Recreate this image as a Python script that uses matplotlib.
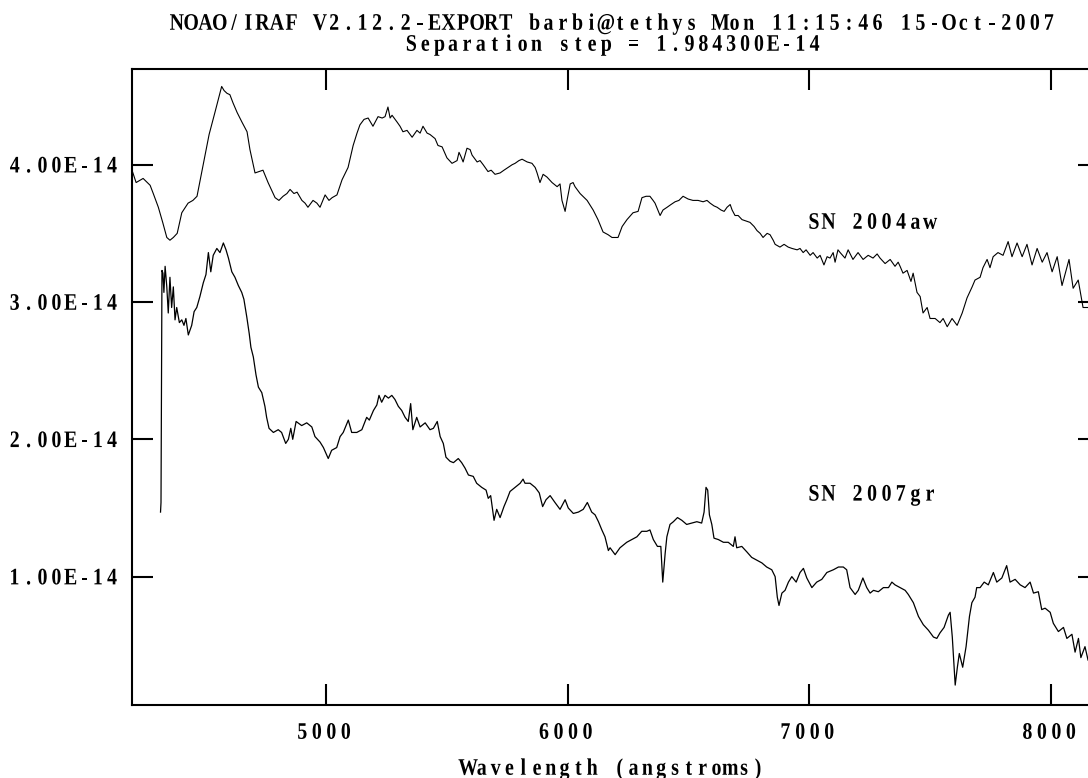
import numpy as np
import matplotlib
matplotlib.use("Agg")
import matplotlib.pyplot as plt
from matplotlib.textpath import TextPath
from matplotlib.patches import PathPatch
from matplotlib.font_manager import FontProperties
from matplotlib.transforms import Affine2D

# spectra, flux in units of 1e-14 (already shifted by the separation step)
sn2004aw = [
    (4197, 3.96), (4214, 3.87), (4243, 3.90), (4272, 3.85), (4285, 3.79), (4306, 3.69),
    (4324, 3.58), (4341, 3.47), (4354, 3.45), (4368, 3.47), (4384, 3.50), (4403, 3.65),
    (4429, 3.72), (4449, 3.74), (4466, 3.77), (4487, 3.96), (4516, 4.22), (4540, 4.38),
    (4568, 4.57), (4578, 4.54), (4590, 4.52), (4602, 4.51), (4615, 4.45), (4632, 4.38),
    (4652, 4.31), (4673, 4.24), (4685, 4.11), (4706, 3.94), (4722, 3.95), (4739, 3.96),
    (4760, 3.87), (4789, 3.76), (4805, 3.74), (4822, 3.77), (4838, 3.79), (4851, 3.82),
    (4867, 3.79), (4880, 3.80), (4900, 3.74), (4913, 3.72), (4925, 3.69), (4946, 3.74),
    (4962, 3.72), (4975, 3.69), (4996, 3.78), (5012, 3.74), (5025, 3.76), (5045, 3.78),
    (5066, 3.89), (5091, 3.98), (5112, 4.14), (5128, 4.23), (5140, 4.29), (5157, 4.33),
    (5174, 4.34), (5194, 4.28), (5215, 4.35), (5232, 4.34), (5244, 4.35), (5256, 4.42),
    (5265, 4.34), (5273, 4.36), (5294, 4.31), (5306, 4.28), (5318, 4.24), (5335, 4.25),
    (5356, 4.20), (5376, 4.25), (5389, 4.23), (5401, 4.28), (5418, 4.23), (5430, 4.22),
    (5451, 4.19), (5463, 4.14), (5480, 4.13), (5500, 4.05), (5521, 4.01), (5542, 4.03),
    (5550, 4.09), (5558, 4.06), (5567, 4.02), (5583, 4.12), (5596, 4.11), (5604, 4.07),
    (5625, 4.02), (5637, 4.03), (5650, 4.00), (5670, 3.95), (5683, 3.96), (5699, 3.93),
    (5720, 3.94), (5736, 3.96), (5753, 3.98), (5770, 4.00), (5782, 4.01), (5798, 4.03),
    (5811, 4.04), (5832, 4.02), (5852, 4.01), (5865, 3.98), (5873, 3.94), (5885, 3.87),
    (5898, 3.93), (5914, 3.91), (5935, 3.87), (5956, 3.84), (5968, 3.86), (5976, 3.74),
    (5989, 3.66), (5997, 3.74), (6010, 3.86), (6022, 3.87), (6030, 3.84), (6051, 3.79),
    (6080, 3.74), (6105, 3.67), (6125, 3.60), (6146, 3.51), (6167, 3.49), (6183, 3.47),
    (6208, 3.47), (6225, 3.55), (6245, 3.60), (6270, 3.65), (6291, 3.66), (6307, 3.76),
    (6324, 3.77), (6340, 3.77), (6353, 3.74), (6361, 3.72), (6382, 3.63), (6394, 3.67),
    (6411, 3.69), (6427, 3.71), (6444, 3.73), (6460, 3.74), (6477, 3.77), (6498, 3.75),
    (6518, 3.74), (6539, 3.74), (6560, 3.73), (6576, 3.74), (6589, 3.72), (6605, 3.70),
    (6618, 3.69), (6634, 3.67), (6647, 3.66), (6659, 3.69), (6672, 3.71), (6680, 3.67),
    (6692, 3.63), (6705, 3.63), (6721, 3.60), (6738, 3.59), (6754, 3.58), (6771, 3.55),
    (6783, 3.52), (6796, 3.50), (6808, 3.47), (6825, 3.50), (6837, 3.49), (6850, 3.45),
    (6858, 3.42), (6878, 3.40), (6895, 3.42), (6912, 3.40), (6928, 3.39), (6949, 3.38),
    (6961, 3.39), (6974, 3.36), (6986, 3.38), (7003, 3.34), (7015, 3.36), (7032, 3.32),
    (7044, 3.34), (7060, 3.27), (7073, 3.33), (7085, 3.32), (7098, 3.36), (7106, 3.29),
    (7118, 3.38), (7127, 3.36), (7147, 3.32), (7160, 3.38), (7180, 3.31), (7201, 3.36),
    (7222, 3.31), (7243, 3.34), (7263, 3.32), (7280, 3.35), (7292, 3.32), (7313, 3.28),
    (7334, 3.31), (7354, 3.26), (7367, 3.29), (7375, 3.26), (7387, 3.21), (7404, 3.23),
    (7420, 3.15), (7429, 3.21), (7445, 3.07), (7458, 3.04), (7470, 2.92), (7487, 2.96),
    (7499, 2.88), (7520, 2.88), (7540, 2.85), (7553, 2.88), (7570, 2.82), (7590, 2.88),
    (7611, 2.83), (7632, 2.92), (7652, 3.03), (7673, 3.11), (7685, 3.16), (7706, 3.18),
    (7718, 3.25), (7735, 3.31), (7747, 3.25), (7760, 3.33), (7780, 3.36), (7801, 3.34),
    (7822, 3.44), (7838, 3.33), (7859, 3.43), (7880, 3.33), (7900, 3.42), (7921, 3.27),
    (7942, 3.39), (7963, 3.29), (7983, 3.36), (8004, 3.22), (8025, 3.33), (8045, 3.12),
    (8074, 3.31), (8091, 3.10), (8112, 3.16), (8132, 2.96), (8153, 2.96), (8182, 3.01),
]

sn2007gr = [
    (4315, 1.47), (4317, 1.54), (4321, 3.23), (4325, 3.21), (4329, 3.07), (4334, 3.26),
    (4341, 3.11), (4347, 2.92), (4354, 3.18), (4361, 2.96), (4368, 3.11), (4375, 2.87),
    (4382, 2.96), (4393, 2.85), (4403, 2.87), (4412, 2.83), (4420, 2.88), (4430, 2.76),
    (4444, 2.83), (4454, 2.93), (4465, 2.96), (4478, 3.04), (4492, 3.14), (4503, 3.20),
    (4513, 3.36), (4523, 3.22), (4533, 3.34), (4548, 3.39), (4561, 3.36), (4575, 3.43),
    (4586, 3.38), (4596, 3.32), (4610, 3.22), (4623, 3.18), (4637, 3.12), (4651, 3.07),
    (4660, 3.02), (4672, 2.89), (4682, 2.77), (4689, 2.67), (4699, 2.60), (4710, 2.47),
    (4720, 2.38), (4734, 2.34), (4747, 2.24), (4754, 2.16), (4764, 2.08), (4782, 2.05),
    (4802, 2.07), (4816, 2.05), (4833, 1.97), (4844, 2.00), (4854, 2.08), (4862, 2.00),
    (4876, 2.13), (4899, 2.10), (4920, 2.12), (4941, 2.09), (4954, 2.02), (4975, 1.98),
    (4989, 1.94), (5009, 1.86), (5023, 1.92), (5044, 1.94), (5058, 2.02), (5071, 2.05),
    (5092, 2.14), (5106, 2.05), (5127, 2.05), (5148, 2.07), (5168, 2.16), (5179, 2.14),
    (5196, 2.21), (5210, 2.25), (5219, 2.32), (5230, 2.27), (5244, 2.32), (5258, 2.30),
    (5272, 2.32), (5285, 2.29), (5299, 2.24), (5313, 2.21), (5327, 2.16), (5340, 2.13),
    (5350, 2.26), (5359, 2.07), (5375, 2.16), (5389, 2.09), (5410, 2.12), (5430, 2.07),
    (5444, 2.08), (5460, 2.13), (5472, 2.02), (5485, 1.97), (5496, 1.87), (5513, 1.84),
    (5527, 1.83), (5547, 1.86), (5561, 1.83), (5575, 1.79), (5589, 1.74), (5609, 1.73),
    (5623, 1.68), (5644, 1.65), (5662, 1.63), (5671, 1.57), (5681, 1.59), (5695, 1.41),
    (5706, 1.49), (5720, 1.43), (5736, 1.51), (5748, 1.56), (5761, 1.62), (5782, 1.65),
    (5803, 1.68), (5815, 1.71), (5823, 1.68), (5844, 1.68), (5865, 1.65), (5882, 1.61),
    (5896, 1.51), (5910, 1.56), (5927, 1.59), (5947, 1.54), (5968, 1.49), (5989, 1.56),
    (6002, 1.50), (6023, 1.46), (6044, 1.47), (6064, 1.49), (6081, 1.54), (6099, 1.47),
    (6113, 1.45), (6127, 1.40), (6141, 1.34), (6154, 1.29), (6168, 1.19), (6175, 1.21),
    (6196, 1.16), (6216, 1.21), (6244, 1.25), (6265, 1.27), (6286, 1.29), (6306, 1.33),
    (6327, 1.33), (6340, 1.34), (6354, 1.27), (6371, 1.22), (6385, 1.22), (6393, 0.96),
    (6403, 1.17), (6410, 1.29), (6423, 1.38), (6437, 1.40), (6454, 1.43), (6472, 1.41),
    (6492, 1.38), (6513, 1.39), (6534, 1.40), (6554, 1.39), (6564, 1.47), (6572, 1.65),
    (6579, 1.63), (6586, 1.45), (6596, 1.38), (6605, 1.28), (6623, 1.27), (6644, 1.25),
    (6664, 1.25), (6685, 1.22), (6692, 1.29), (6699, 1.21), (6720, 1.22), (6741, 1.18),
    (6761, 1.14), (6782, 1.12), (6803, 1.10), (6823, 1.07), (6844, 1.05), (6858, 1.00),
    (6867, 0.85), (6874, 0.79), (6886, 0.88), (6899, 0.90), (6913, 0.96), (6927, 1.00),
    (6945, 0.96), (6961, 1.03), (6975, 1.06), (6989, 0.99), (7010, 0.92), (7030, 0.96),
    (7051, 0.98), (7072, 1.03), (7099, 1.05), (7120, 1.07), (7140, 1.07), (7154, 1.05),
    (7168, 0.92), (7189, 0.87), (7202, 0.90), (7221, 0.99), (7237, 0.92), (7251, 0.88),
    (7265, 0.90), (7285, 0.89), (7306, 0.92), (7327, 0.92), (7341, 0.96), (7354, 0.94),
    (7375, 0.92), (7396, 0.90), (7409, 0.87), (7430, 0.81), (7451, 0.71), (7471, 0.65),
    (7492, 0.61), (7513, 0.56), (7527, 0.55), (7540, 0.59), (7557, 0.63), (7575, 0.72),
    (7582, 0.74), (7591, 0.56), (7603, 0.21), (7612, 0.34), (7620, 0.44), (7634, 0.34),
    (7648, 0.49), (7662, 0.71), (7672, 0.81), (7685, 0.85), (7692, 0.92), (7706, 0.92),
    (7723, 0.96), (7740, 0.94), (7761, 1.03), (7775, 0.96), (7796, 0.99), (7816, 1.08),
    (7830, 0.96), (7851, 0.98), (7872, 0.94), (7892, 0.92), (7913, 0.96), (7927, 0.88),
    (7947, 0.89), (7961, 0.76), (7975, 0.77), (7996, 0.74), (8009, 0.66), (8030, 0.60),
    (8051, 0.63), (8065, 0.55), (8086, 0.58), (8099, 0.45), (8113, 0.55), (8123, 0.41),
    (8140, 0.49), (8153, 0.39), (8180, 0.42),
]

labels = ["SN 2004aw", "SN 2007gr"]
label_pos = [(7019, 3.59), (7019, 1.61)]

x_ticks = [5000, 6000, 7000, 8000]
y_ticks = [1e-14, 2e-14, 3e-14, 4e-14]

title1 = "NOAO/IRAF V2.12.2-EXPORT barbi@tethys Mon 11:15:46 15-Oct-2007"
title2 = "Separation step = 1.984300E-14"
xlabel = "Wavelength (angstroms)"

W, H = 1088, 778
fig = plt.figure(figsize=(W / 100, H / 100), dpi=100)
fig.patch.set_facecolor("white")
# frame runs from x=132 to 1099 px, so the right side falls just off the page
ax = fig.add_axes([132 / W, 73 / H, (1099 - 132) / W, (705 - 69) / H])

for spec, lw in ((sn2004aw, 0.8), (sn2007gr, 0.9)):
    wave, flux = np.array(spec).T
    ax.plot(wave, flux * 1e-14, color="black", lw=lw)

ax.set_xlim(4197, 8198)
ax.set_ylim(0.065e-14, 4.697e-14)
ax.set_xticks(x_ticks)
ax.set_yticks(y_ticks)
ax.tick_params(which="both", direction="in", length=15, width=1.5,
               top=True, right=True, labelbottom=False, labelleft=False)
for s in ax.spines.values():
    s.set_linewidth(1.5)

# narrow fixed-pitch lettering like the IRAF plot font:
# bold serif glyphs squeezed horizontally, one per cell
fp = FontProperties(family="Liberation Serif", weight="bold")
CAP = 15.5     # cap height in pixels
SQ = 0.84      # horizontal squeeze
_h = TextPath((0, 0), "H", size=100, prop=fp).get_extents().height
SIZE = 100 * CAP / _h


def draw_text(X, Y, s, pitch=14.0, ha="center"):
    # X, Y in output pixels (origin bottom-left); Y is the middle of the caps
    n = len(s)
    if ha == "center":
        start = X - (n - 1) / 2 * pitch
    elif ha == "right":
        start = X - (n - 1) * pitch
    else:
        start = X
    for i, ch in enumerate(s):
        if ch == " ":
            continue
        tp = TextPath((0, 0), ch, size=SIZE, prop=fp)
        e = tp.get_extents()
        tr = (Affine2D().translate(-(e.x0 + e.x1) / 2, 0).scale(SQ, 1)
              .translate(start + i * pitch, Y - CAP / 2))
        fig.add_artist(PathPatch(tp, transform=tr, fc="black", ec="none", lw=0))


x0_px, y0_px = ax.transAxes.transform((0, 0))
for v in x_ticks:
    X = ax.transData.transform((v, 0))[0]
    draw_text(X - 2, y0_px - 26, str(v), pitch=14.5)
for v in y_ticks:
    Y = ax.transData.transform((4197, v))[1]
    draw_text(x0_px - 20, Y, "%.2E" % v, pitch=13.9, ha="right")

for txt, (lx, ly) in zip(labels, label_pos):
    X, Y = ax.transData.transform((lx, ly * 1e-14))
    draw_text(X, Y, txt, pitch=14.5, ha="left")

draw_text(613, H - 22, title1, pitch=14.3)
draw_text(613, H - 43, title2, pitch=13.9)
draw_text(613, H - 767, xlabel, pitch=13.8)

fig.savefig("out.png", dpi=100)
